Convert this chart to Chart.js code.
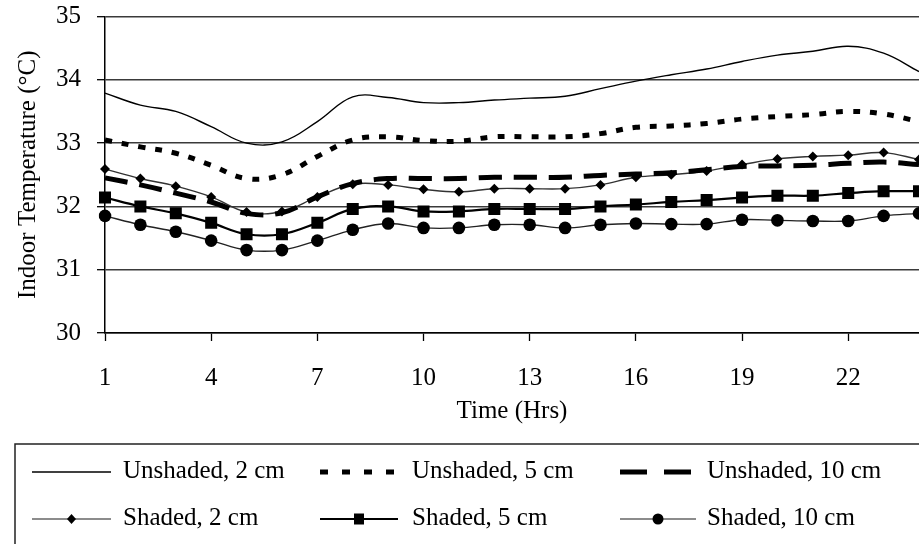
<!DOCTYPE html>
<html>
<head>
<meta charset="utf-8">
<script src="https://cdn.jsdelivr.net/npm/chart.js@4/dist/chart.umd.min.js"></script>
<style>
  html, body { margin: 0; padding: 0; background: #fff; }
  #wrap { width: 919px; height: 544px; position: relative; }
</style>
</head>
<body>
<div id="wrap"><canvas id="c" width="919" height="544"></canvas></div>
<script>
const hours = ['1','2','3','4','5','6','7','8','9','10','11','12','13','14','15','16','17','18','19','20','21','22','23','24'];
const unshaded2 = [33.79, 33.60, 33.50, 33.26, 33.00, 33.02, 33.34, 33.73, 33.72, 33.64, 33.64, 33.68, 33.71, 33.74, 33.86, 33.98, 34.08, 34.17, 34.29, 34.39, 34.45, 34.53, 34.42, 34.13];
const unshaded5 = [33.05, 32.94, 32.84, 32.65, 32.44, 32.50, 32.79, 33.05, 33.10, 33.04, 33.03, 33.10, 33.10, 33.10, 33.15, 33.25, 33.27, 33.31, 33.38, 33.42, 33.45, 33.50, 33.46, 33.34];
const unshaded10 = [32.45, 32.34, 32.21, 32.07, 31.89, 31.90, 32.15, 32.36, 32.44, 32.44, 32.44, 32.46, 32.46, 32.46, 32.49, 32.51, 32.53, 32.58, 32.63, 32.64, 32.65, 32.68, 32.70, 32.66];
const shaded2 = [32.59, 32.44, 32.32, 32.15, 31.91, 31.92, 32.15, 32.35, 32.34, 32.27, 32.23, 32.28, 32.28, 32.28, 32.34, 32.46, 32.50, 32.56, 32.66, 32.75, 32.79, 32.81, 32.85, 32.74];
const shaded5 = [32.14, 32.00, 31.89, 31.74, 31.56, 31.56, 31.74, 31.96, 32.00, 31.92, 31.92, 31.96, 31.96, 31.96, 32.00, 32.03, 32.07, 32.10, 32.14, 32.17, 32.17, 32.21, 32.24, 32.24];
const shaded10 = [31.85, 31.71, 31.60, 31.46, 31.31, 31.31, 31.46, 31.63, 31.73, 31.66, 31.66, 31.71, 31.71, 31.66, 31.71, 31.73, 31.72, 31.72, 31.79, 31.78, 31.77, 31.77, 31.85, 31.89];
const seriesNames = ['Unshaded, 2 cm', 'Unshaded, 5 cm', 'Unshaded, 10 cm', 'Shaded, 2 cm', 'Shaded, 5 cm', 'Shaded, 10 cm'];
const xTitle = 'Time (Hrs)';
const yTitle = 'Indoor Temperature (\u00B0C)';

const FONT = "'Liberation Serif', 'Times New Roman', serif";

const legendPlugin = {
  id: 'boxLegend',
  afterDraw(chart) {
    const ctx = chart.ctx;
    ctx.save();
    ctx.strokeStyle = '#222';
    ctx.lineWidth = 1.5;
    ctx.strokeRect(15, 444, 920, 120);
    const rows = [472, 519];
    const cols = [{s: 32, e: 111, t: 123}, {s: 320, e: 398, t: 412}, {s: 620, e: 696, t: 707}];
    const ds = chart.data.datasets;
    ctx.font = '25px ' + FONT;
    ctx.textBaseline = 'middle';
    ctx.textAlign = 'left';
    ds.forEach((d, i) => {
      const r = rows[Math.floor(i / 3)];
      const c = cols[i % 3];
      ctx.beginPath();
      ctx.strokeStyle = d.legendColor || d.borderColor;
      ctx.lineWidth = d.borderWidth;
      ctx.setLineDash(d.legendDash || []);
      ctx.lineCap = 'butt';
      ctx.moveTo(c.s, r);
      ctx.lineTo(c.e, r);
      ctx.stroke();
      ctx.setLineDash([]);
      const mx = (c.s + c.e) / 2;
      ctx.fillStyle = '#000';
      if (d.pointStyle === 'rectRot') {
        ctx.beginPath();
        ctx.moveTo(mx, r - 5); ctx.lineTo(mx + 4.5, r); ctx.lineTo(mx, r + 5); ctx.lineTo(mx - 4.5, r);
        ctx.closePath(); ctx.fill();
      } else if (d.pointStyle === 'rect') {
        ctx.fillRect(mx - 5, r - 5.5, 10, 11);
      } else if (d.pointStyle === 'circle') {
        ctx.beginPath(); ctx.arc(mx, r, 5.5, 0, Math.PI * 2); ctx.fill();
      }
      ctx.fillStyle = '#000';
      ctx.fillText(d.label, c.t, r - 1);
    });
    ctx.restore();
  }
};

new Chart(document.getElementById('c'), {
  type: 'line',
  data: {
    labels: hours,
    datasets: [
      { label: seriesNames[0], data: unshaded2, borderColor: '#000', borderWidth: 1.4, pointRadius: 0, pointStyle: false, tension: 0.4 },
      { label: seriesNames[1], data: unshaded5, borderColor: '#000', borderWidth: 5, borderDash: [7, 10], legendDash: [8, 14], pointRadius: 0, pointStyle: false, tension: 0.4 },
      { label: seriesNames[2], data: unshaded10, borderColor: '#000', borderWidth: 5, borderDash: [23, 12], legendDash: [27, 17], pointRadius: 0, pointStyle: false, tension: 0.4 },
      { label: seriesNames[3], data: shaded2, borderColor: '#333', legendColor: '#666', borderWidth: 1.4, pointStyle: 'rectRot', pointRadius: 5, pointBackgroundColor: '#000', pointBorderColor: '#000', pointBorderWidth: 0, tension: 0.4 },
      { label: seriesNames[4], data: shaded5, borderColor: '#000', borderWidth: 2.2, pointStyle: 'rect', pointRadius: 8.5, pointBackgroundColor: '#000', pointBorderColor: '#000', pointBorderWidth: 0, tension: 0.4 },
      { label: seriesNames[5], data: shaded10, borderColor: '#222', legendColor: '#666', borderWidth: 1.4, pointStyle: 'circle', pointRadius: 6.3, pointBackgroundColor: '#000', pointBorderColor: '#000', pointBorderWidth: 0, tension: 0.4 }
    ]
  },
  options: {
    responsive: false,
    animation: false,
    events: [],
    layout: { autoPadding: false, padding: { top: 16.5, right: 0, bottom: 118, left: 0 } },
    plugins: { legend: { display: false }, tooltip: { enabled: false } },
    scales: {
      x: {
        type: 'category',
        offset: false,
        border: { display: true, color: '#000', width: 1.5 },
        grid: {
          drawOnChartArea: false,
          drawTicks: true,
          tickLength: 8,
          tickWidth: 1.3,
          tickColor: (c) => (c.index % 3 === 0 && c.index < 22) ? '#000' : 'rgba(0,0,0,0)'
        },
        ticks: {
          autoSkip: false,
          maxRotation: 0,
          minRotation: 0,
          padding: 22,
          color: '#000',
          font: { family: FONT, size: 25 },
          callback: (v, i) => (i % 3 === 0 && i < 22) ? hours[i] : ''
        },
        title: { display: true, text: xTitle, color: '#000', font: { family: FONT, size: 25 }, padding: { top: 0, bottom: 0 } },
        afterFit: (s) => { s.height = 93; s.paddingRight = 0; s.paddingLeft = 0; }
      },
      y: {
        min: 30, max: 35,
        border: { display: true, color: '#000', width: 1.5 },
        grid: { color: '#3a3a3a', lineWidth: 1.4, tickLength: 8, tickColor: '#000', tickWidth: 1.3 },
        ticks: { stepSize: 1, padding: 16, color: '#000', font: { family: FONT, size: 25 } },
        title: { display: true, text: yTitle, color: '#000', font: { family: FONT, size: 25 }, padding: { top: 13, bottom: 0 } },
        afterFit: (s) => { s.width = 105; s.paddingTop = 0; s.paddingBottom = 0; }
      }
    }
  },
  plugins: [legendPlugin]
});
</script>
</body>
</html>
